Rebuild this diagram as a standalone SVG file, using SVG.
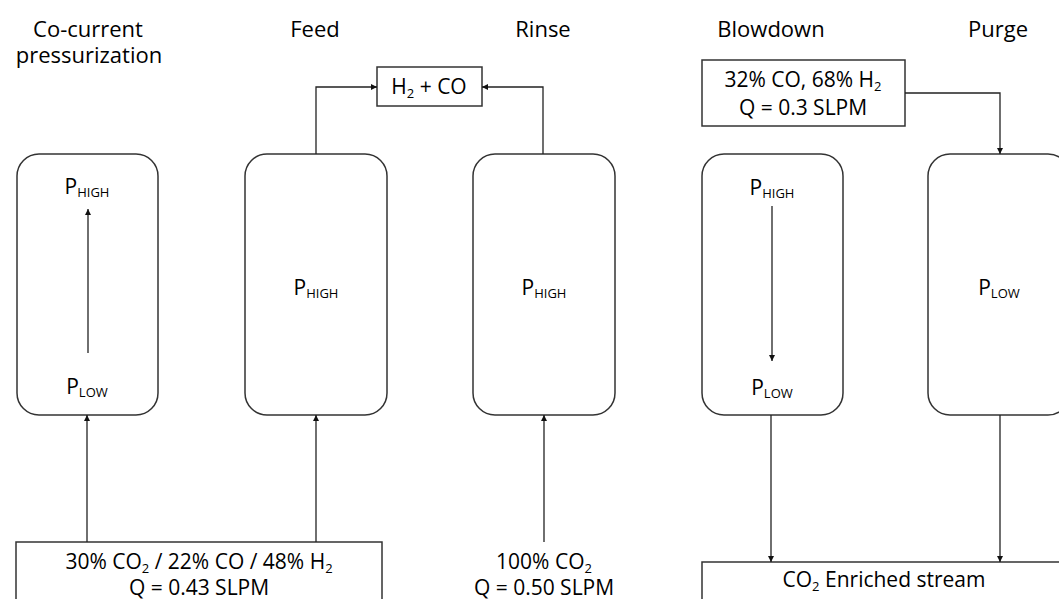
<svg xmlns="http://www.w3.org/2000/svg" width="1059" height="599" viewBox="0 0 1059 599">
<style>
  text { font-family: "Open Sans", "DejaVu Sans", sans-serif; fill: #000; text-anchor: middle; }
  .h { font-size: 22px; }
  .t { font-size: 21px; }
  .sub { font-size: 13px; }
  .col { fill: #fff; stroke: #333; stroke-width: 1.5; }
  .box { fill: #fff; stroke: #333; stroke-width: 1.5; }
  .ln { fill: none; stroke: #222; stroke-width: 1.3; }
</style>
<defs>
  <marker id="ah" markerUnits="userSpaceOnUse" markerWidth="7" markerHeight="7" refX="6" refY="3" orient="auto">
    <path d="M0,0 L6,3 L0,6 z" fill="#111"/>
  </marker>
</defs>
<rect width="1059" height="599" fill="#fff"/>

<g id="headings">
  <text x="88" y="37" class="h">Co-current</text>
  <text x="89" y="63" class="h">pressurization</text>
  <text x="315" y="37" class="h">Feed</text>
  <text x="543" y="37" class="h">Rinse</text>
  <text x="771" y="37" class="h">Blowdown</text>
  <text x="998" y="37" class="h">Purge</text>
</g>

<g id="col1">
  <rect class="col" x="17" y="154" width="141" height="261" rx="22"/>
  <text x="87" y="194" class="t">P<tspan class="sub" dy="3">HIGH</tspan></text>
  <text x="87" y="394" class="t">P<tspan class="sub" dy="3">LOW</tspan></text>
</g>
<g id="col2">
  <rect class="col" x="245" y="154" width="142" height="261" rx="22"/>
  <text x="316" y="295" class="t">P<tspan class="sub" dy="3">HIGH</tspan></text>
</g>
<g id="col3">
  <rect class="col" x="473" y="154" width="142" height="261" rx="22"/>
  <text x="544" y="295" class="t">P<tspan class="sub" dy="3">HIGH</tspan></text>
</g>
<g id="col4">
  <rect class="col" x="702" y="154" width="141" height="261" rx="22"/>
  <text x="772" y="195" class="t">P<tspan class="sub" dy="3">HIGH</tspan></text>
  <text x="772" y="395" class="t">P<tspan class="sub" dy="3">LOW</tspan></text>
</g>
<g id="col5">
  <rect class="col" x="928" y="154" width="142" height="261" rx="22"/>
  <text x="999" y="295" class="t">P<tspan class="sub" dy="3">LOW</tspan></text>
</g>

<g id="product">
  <rect class="box" x="377" y="67" width="105" height="39"/>
  <text x="429" y="94" class="t">H<tspan class="sub" dy="4">2</tspan><tspan dy="-4"> + CO</tspan></text>
</g>

<g id="purge-feed">
  <rect class="box" x="702" y="60" width="203" height="66"/>
  <text x="803" y="87" class="t">32% CO, 68% H<tspan class="sub" dy="4">2</tspan></text>
  <text x="803" y="115" class="t">Q = 0.3 SLPM</text>
</g>

<g id="feed-gas">
  <rect class="box" x="16" y="542" width="366" height="80"/>
  <text x="199" y="569" class="t">30% CO<tspan class="sub" dy="4">2</tspan><tspan dy="-4"> / 22% CO / 48% H</tspan><tspan class="sub" dy="4">2</tspan></text>
  <text x="199" y="595" class="t">Q = 0.43 SLPM</text>
</g>

<g id="rinse-gas">
  <text x="544" y="569" class="t">100% CO<tspan class="sub" dy="4">2</tspan></text>
  <text x="544" y="595" class="t">Q = 0.50 SLPM</text>
</g>

<g id="co2-stream">
  <rect class="box" x="702" y="562" width="400" height="60"/>
  <text x="884" y="587" class="t">CO<tspan class="sub" dy="4">2</tspan><tspan dy="-4"> Enriched stream</tspan></text>
</g>

<g id="connectors">
  <line class="ln" x1="88" y1="353" x2="88" y2="209" marker-end="url(#ah)"/>
  <line class="ln" x1="772" y1="206" x2="772" y2="361" marker-end="url(#ah)"/>
  <polyline class="ln" points="316,154 316,87 377,87" marker-end="url(#ah)"/>
  <polyline class="ln" points="543,154 543,87 482,87" marker-end="url(#ah)"/>
  <polyline class="ln" points="905,93 1000,93 1000,154" marker-end="url(#ah)"/>
  <line class="ln" x1="87" y1="542" x2="87" y2="415" marker-end="url(#ah)"/>
  <line class="ln" x1="316" y1="542" x2="316" y2="415" marker-end="url(#ah)"/>
  <line class="ln" x1="544" y1="542" x2="544" y2="415" marker-end="url(#ah)"/>
  <line class="ln" x1="771" y1="415" x2="771" y2="562" marker-end="url(#ah)"/>
  <line class="ln" x1="1000" y1="415" x2="1000" y2="562" marker-end="url(#ah)"/>
</g>
</svg>
